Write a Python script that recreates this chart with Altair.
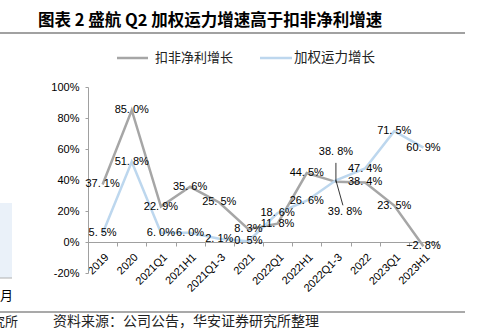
import altair as alt
import pandas as pd

# ---- data ----
categories = ["2019", "2020", "2021Q1", "2021H1", "2021Q1-3", "2021",
              "2022Q1", "2022H1", "2022Q1-3", "2022", "2023Q1", "2023H1"]
profit_growth = [37.1, 85.0, 22.9, 35.6, 25.5, 8.3, 11.8, 44.5, 38.8, 38.4, 23.5, -2.8]
capacity_growth = [5.5, 51.8, 6.0, 6.0, 2.1, 0.5, 18.6, 26.6, 39.8, 47.4, 71.5, 60.9]
series_names = ["扣非净利增长", "加权运力增长"]
series_colors = ["#a6a6a6", "#bdd7ee"]
y_ticks = [-20, 0, 20, 40, 60, 80, 100]
title_text = "图表 2 盛航 Q2 加权运力增速高于扣非净利增速"
source_text = "资料来源：公司公告，华安证券研究所整理"

rows = []
for name, vals in zip(series_names, [profit_growth, capacity_growth]):
    for i, (c, v) in enumerate(zip(categories, vals)):
        rows.append({"cat": c, "series": name, "value": v, "idx": i})
df = pd.DataFrame(rows)

W, H = 350, 186
PAD = {"left": 88, "top": 87, "right": 43, "bottom": 57}
LABEL_FONT = "Liberation Sans"
CJK = "Noto Sans CJK SC"

xscale = alt.Scale(type="band", domain=categories, paddingInner=0, paddingOuter=0)
yscale = alt.Scale(domain=[-20, 100], nice=False, zero=False)

x_enc = alt.X("cat:N", scale=xscale, sort=categories, bandPosition=0.5,
              axis=alt.Axis(title=None, labelAngle=-45, labelAlign="right",
                            labelBaseline="top", offset=-31, tickBand="extent",
                            tickSize=4, labelPadding=5, domainColor="#a0a0a0",
                            tickColor="#a0a0a0", labelFont=LABEL_FONT,
                            labelFontSize=11, labelColor="#000", grid=False))
y_enc = alt.Y("value:Q", scale=yscale,
              axis=alt.Axis(title=None, values=y_ticks, labelExpr="datum.value + '%'",
                            tickSize=3, labelPadding=6, domainColor="#a0a0a0",
                            tickColor="#a0a0a0", labelFont=LABEL_FONT,
                            labelFontSize=11, labelColor="#000", grid=False))

color_enc = alt.Color("series:N", scale=alt.Scale(domain=series_names, range=series_colors),
                      legend=None)

base = alt.Chart(df)
lines = []
for name in series_names:
    lines.append(base.transform_filter(alt.datum.series == name)
                 .mark_line(strokeWidth=2.5)
                 .encode(x=x_enc, y=y_enc, color=color_enc, order="idx:Q"))

label_calc = "replace(format(datum.value, '.1f'), '.', '. ') + '%'"
special = "datum.cat == '2022Q1-3'"

labels = (base.transform_filter("!(" + special + ")")
          .transform_calculate(lbl=label_calc)
          .mark_text(font=LABEL_FONT, fontSize=11, color="#000")
          .encode(x=x_enc, y=y_enc, text="lbl:N"))

lbl_profit_special = (base.transform_filter(special + " && datum.series == '" + series_names[0] + "'")
                      .transform_calculate(lbl=label_calc)
                      .mark_text(font=LABEL_FONT, fontSize=11, color="#000", dy=-30)
                      .encode(x=x_enc, y=y_enc, text="lbl:N"))
lbl_cap_special = (base.transform_filter(special + " && datum.series == '" + series_names[1] + "'")
                   .transform_calculate(lbl=label_calc)
                   .mark_text(font=LABEL_FONT, fontSize=11, color="#000", dx=9, dy=32)
                   .encode(x=x_enc, y=y_enc, text="lbl:N"))

leader1 = (base.transform_filter(special + " && datum.series == '" + series_names[0] + "'")
           .mark_rule(color="#000", strokeWidth=0.8, y2Offset=-19)
           .encode(x=x_enc, y=y_enc, y2=alt.Y2("value:Q")))
leader2 = (base.transform_filter(special + " && datum.series == '" + series_names[1] + "'")
           .mark_rule(color="#000", strokeWidth=0.8, x2Offset=7, y2Offset=25)
           .encode(x=x_enc, y=y_enc, x2=alt.X2("cat:N", bandPosition=0.5),
                   y2=alt.Y2("value:Q")))

one = pd.DataFrame({"k": [0]})

def deco_text(txt, x, y, size, bold=False, align="left", color="#000", font=CJK):
    return alt.Chart(one).mark_text(font=font, fontSize=size, align=align, baseline="middle",
                                    fontWeight="bold" if bold else "normal",
                                    color=color).encode(
        x=alt.value(x), y=alt.value(y), text=alt.value(txt))

def deco_rule(x1, x2, y, color, width):
    return alt.Chart(one).mark_rule(color=color, strokeWidth=width).encode(
        x=alt.value(x1), x2=alt.value(x2), y=alt.value(y))

decor = [
    deco_text(title_text, -50, -66, 16.5, bold=True),
    deco_rule(-88, 377, -54, "#444", 1.2),
    # legend
    deco_rule(29, 60, -29, series_colors[0], 2.5),
    deco_text(series_names[0], 67, -29, 13, color="#222"),
    deco_rule(172, 204, -29, series_colors[1], 2.5),
    deco_text(series_names[1], 206, -29, 13.5, color="#222"),
    # bottom rule + source
    deco_rule(-88, 377, 225, "#555", 1.2),
    deco_text(source_text, -35, 235, 14, color="#222"),
    # cropped neighbouring content at left edge
    alt.Chart(one).mark_rect(fill="#eaf1f9").encode(
        x=alt.value(-88), x2=alt.value(-76), y=alt.value(116), y2=alt.value(191)),
    deco_rule(-88, -76, 191, "#b0b0b0", 1),
    deco_text("月", -88, 209, 13),
    deco_text("究所", -70, 235, 13, align="right", color="#222"),
]

chart = alt.layer(*lines, labels, lbl_profit_special, lbl_cap_special, leader1, leader2,
                  *decor).properties(
    width=W, height=H, padding=PAD,
    autosize=alt.AutoSizeParams(type="none"), background="white"
).configure_view(strokeWidth=0)

chart.save("out.html", embed_options={"renderer": "svg", "actions": False})
